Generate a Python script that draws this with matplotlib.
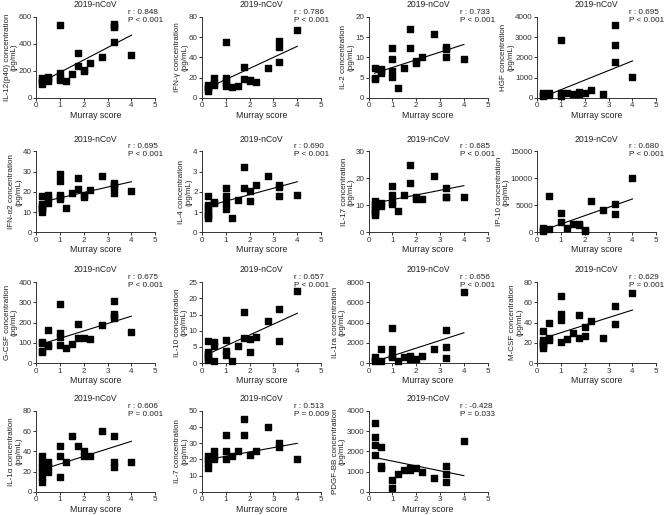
import matplotlib
matplotlib.use("Agg")
import matplotlib.pyplot as plt
import numpy as np

plt.rcParams['font.family'] = ['Liberation Sans', 'DejaVu Sans']

# Murray score of each patient point, listed per panel
names = ["IL-12(p40)", "IFN-γ", "IL-2", "HGF",
         "IFN-α2", "IL-4", "IL-17", "IP-10",
         "G-CSF", "IL-10", "IL-1ra", "M-CSF",
         "IL-1α", "IL-7", "PDGF-BB"]

ymax = [600, 80, 20, 4000, 40, 4, 30, 15000, 400, 25, 8000, 80, 80, 50, 4000]
ystep = [200, 20, 5, 1000, 10, 1, 10, 5000, 100, 5, 2000, 20, 20, 10, 1000]

r_txt = ["0.848", "0.786", "0.733", "0.695", "0.695", "0.690", "0.685", "0.680",
         "0.675", "0.657", "0.656", "0.629", "0.606", "0.513", "-0.428"]
p_txt = ["P < 0.001"] * 12 + ["P = 0.001", "P = 0.009", "P = 0.033"]
p_txt[11] = "P = 0.001"

# fitted line value at x=0.25 and x=4
fit_lo = [120, 10, 6.1, 50, 15.0, 1.3, 10.8, 380, 95, 2.8, 150, 24.5, 22, 20, 1700]
fit_hi = [465, 51, 13.2, 1826, 25.0, 2.5, 17.3, 6176, 232, 15.4, 3000, 52.5, 50, 30, 800]

xs = {}
ys = {}
xs[0] = [0.25]*4 + [0.5]*3 + [1]*4 + [1.25, 1.5, 1.75, 1.75, 2, 2, 2.25, 2.75] + [3.25]*4 + [4]
ys[0] = [145, 130, 115, 100, 155, 140, 125, 538, 187, 144, 132, 124, 177, 331, 239, 207, 197, 261, 306,
         550, 535, 523, 411, 319]
xs[1] = [0.25]*4 + [0.5]*3 + [1]*5 + [1.25, 1.5, 1.75, 1.75, 2, 2, 2.25, 2.75] + [3.25]*3 + [4]
ys[1] = [12.6, 10.3, 8.3, 7, 20, 14.3, 12.6, 54.8, 19.3, 16.6, 14.3, 12, 10.3, 12, 30.9, 18.3, 17.6, 16.6,
         16, 29.2, 55.8, 50.8, 35.2, 66.8]
xs[2] = [0.25]*3 + [0.5]*3 + [1]*4 + [1.25, 1.5, 1.75, 1.75, 2, 2, 2.25, 2.75] + [3.25]*3 + [4]
ys[2] = [7.5, 5.0, 4.6, 7.2, 6.7, 6.2, 12.3, 9.7, 6.6, 5.2, 2.4, 7.5, 17.0, 12.3, 9.1, 8.5, 10.1, 15.8,
         12.6, 12.2, 10.2, 9.5]
xs[3] = [0.25]*3 + [0.5]*2 + [1]*3 + [1.25, 1.5, 1.75, 1.75, 2, 2.25, 2.75] + [3.25]*3 + [4]
ys[3] = [220, 150, 116, 249, 133, 2871, 216, 116, 216, 166, 300, 183, 216, 365, 183, 3618, 2606, 1776, 1012]
xs[4] = [0.25]*6 + [0.5]*3 + [1]*5 + [1.25, 1.5, 1.75, 1.75, 2, 2, 2.25, 2.75] + [3.25]*4 + [4]
ys[4] = [17.7, 14.2, 13, 12.2, 11.3, 10.1, 18.6, 16.9, 14.7, 29, 25.3, 18.6, 17.6, 16.4, 12.2, 19.6,
         27, 21.4, 18.6, 17.6, 21.1, 28, 24.5, 23.3, 22.3, 19.4, 20.6]
xs[5] = [0.25]*7 + [0.5]*2 + [1]*4 + [1.25, 1.5, 1.75, 1.75, 2, 2, 2.25, 2.75] + [3.25]*3 + [4]
ys[5] = [1.8, 1.34, 1.26, 1.03, 0.92, 0.81, 0.71, 1.51, 1.43, 2.18, 1.78, 1.45, 1.14, 0.69, 1.6,
         3.24, 2.18, 2.05, 1.53, 2.35, 2.77, 2.32, 2.22, 1.78, 1.85]
xs[6] = [0.25]*7 + [0.5]*2 + [1]*4 + [1.25, 1.5, 1.75, 1.75, 2, 2, 2.25, 2.75] + [3.25]*3 + [4]
ys[6] = [11.6, 10.4, 9.5, 8.75, 7.9, 7, 6.25, 11, 9.75, 17, 13.75, 11.25, 10.4, 8, 13.9, 25.1, 18.25,
         12.9, 12.5, 12.25, 20.75, 16.4, 13.25, 12.9, 13.25]
xs[7] = [0.25]*3 + [0.5]*2 + [1]*2 + [1.25, 1.5, 1.75, 1.75, 2, 2, 2.25, 2.75] + [3.25]*2 + [4]
ys[7] = [819, 504, 315, 6807, 630, 3655, 1890, 819, 1575, 1575, 1260, 504, 315, 5735, 4160, 5231, 3466, 10084]
xs[8] = [0.25]*4 + [0.5]*3 + [1]*4 + [1.25, 1.5, 1.75, 1.75, 2, 2.25, 2.75] + [3.25]*4 + [4]
ys[8] = [106, 100, 62, 56, 162, 89, 83, 292, 149, 127, 89, 73, 96, 191, 122, 122, 120, 187,
         307, 245, 233, 223, 152]
xs[9] = [0.25]*6 + [0.5]*3 + [1]*3 + [1.25, 1.5, 1.75, 1.75, 2, 2, 2.25, 2.75] + [3.25]*2 + [4]
ys[9] = [6.9, 3.5, 2.9, 2.2, 1.6, 1.1, 6.5, 5.3, 0.5, 7, 3.8, 2.4, 0.5, 5.3, 15.7, 7.8, 7.4, 3.3,
         8.1, 13.1, 16.6, 6.9, 22.3]
xs[10] = [0.25]*3 + [0.5]*2 + [1]*4 + [1.25, 1.5, 1.75, 1.75, 1.75, 2, 2.25, 2.75] + [3.25]*3 + [4]
ys[10] = [574, 338, 169, 1350, 236, 3477, 1418, 675, 574, 236, 574, 743, 574, 405, 405, 675, 1418,
          3274, 1620, 506, 6987]
xs[11] = [0.25]*6 + [0.5]*3 + [1]*4 + [1.25, 1.5, 1.75, 1.75, 2, 2, 2.25, 2.75] + [3.25]*2 + [4]
ys[11] = [31.4, 22.6, 20.3, 18.6, 16.9, 15.2, 39.8, 25.3, 22.6, 66.5, 48.3, 42.2, 20.9, 24.3, 29.7,
          47.3, 25.3, 35.4, 26.3, 41.2, 25.3, 56.4, 38.5, 68.9]
xs[12] = [0.25]*6 + [0.5]*3 + [1]*3 + [1.25, 1.5, 1.75, 2, 2, 2.25, 2.75] + [3.25]*3 + [4]
ys[12] = [10, 15, 20, 25, 30, 35, 20, 25, 30, 15, 35, 45, 30, 55, 45, 35, 40, 35, 60, 25, 30, 55, 30]
xs[13] = [0.25]*4 + [0.5]*3 + [1]*3 + [1.25, 1.5, 1.75, 1.75, 2, 2.25, 2.75] + [3.25]*2 + [4]
ys[13] = [15, 18, 20, 22, 20, 22, 25, 20, 25, 35, 22, 25, 45, 35, 23, 25, 40, 30, 28, 20]
xs[14] = [0.25]*4 + [0.5]*3 + [1]*2 + [1.25, 1.5, 1.75, 1.75, 2, 2.25, 2.75] + [3.25]*3 + [4]
ys[14] = [2700, 3400, 2300, 1800, 1300, 1200, 2200, 600, 200, 900, 1100, 1200, 1100, 1200, 1000, 700,
          1300, 900, 500, 2500]

fig = plt.figure(figsize=(6.69, 5.15), dpi=100)

lefts = [0.054, 0.302, 0.551, 0.803]
bottoms = [0.810, 0.549, 0.295, 0.045]
w, h = 0.178, 0.157

for i in range(15):
    row, col = i // 4, i % 4
    ax = fig.add_axes([lefts[col], bottoms[row], w, h])
    ax.scatter(xs[i], ys[i], marker='s', s=24, color='black', zorder=3, clip_on=False)
    ax.plot([0.25, 4], [fit_lo[i], fit_hi[i]], color='black', lw=0.8)
    ax.set_xlim(0, 5)
    ax.set_ylim(0, ymax[i])
    ax.set_xticks(range(6))
    ax.set_yticks(np.arange(0, ymax[i] + 1e-9, ystep[i]))
    ax.spines['top'].set_visible(False)
    ax.spines['right'].set_visible(False)
    for s in ['left', 'bottom']:
        ax.spines[s].set_linewidth(0.7)
        ax.spines[s].set_color('#333333')
    ax.tick_params(labelsize=5.8, length=2.2, width=0.7, pad=1, colors='#333333')
    ax.set_xlabel("Murray score", fontsize=6.3, labelpad=1, color='#222222')
    ax.set_ylabel(names[i] + " concentration\n(pg/mL)", fontsize=5.8, labelpad=0.5,
                  color='#222222', linespacing=1.0)
    ax.set_title("2019-nCoV", fontsize=6.2, pad=7, color='#222222')
    ax.text(0.77, 1.10, "r : " + r_txt[i] + "\n" + p_txt[i], transform=ax.transAxes,
            ha='left', va='top', fontsize=5.9, color='#222222', linespacing=1.15)

fig.savefig("out.png", dpi=100)
